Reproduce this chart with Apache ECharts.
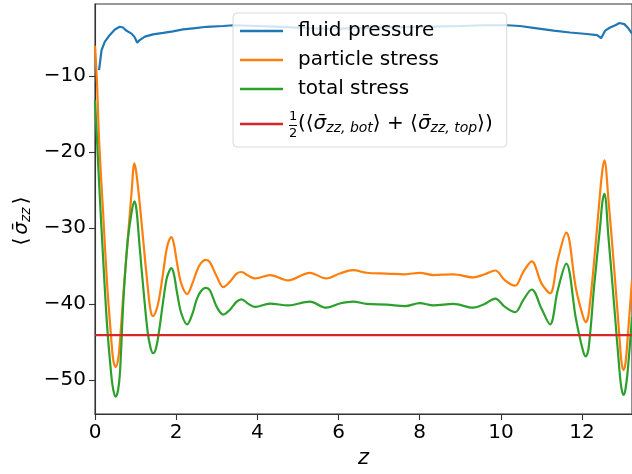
<!DOCTYPE html>
<html>
<head>
<meta charset="utf-8">
<script src="https://cdn.jsdelivr.net/npm/echarts@6/dist/echarts.min.js"></script>
<style>
html,body{margin:0;padding:0;background:#fff;}
#chart{width:632px;height:474px;}
</style>
</head>
<body>
<div id="chart"></div>
<script>
// ---- data ----
const zStress = [0.0, 0.05, 0.1, 0.2, 0.3, 0.4, 0.45, 0.51, 0.57, 0.62, 0.7, 0.8, 0.9, 0.97, 1.02, 1.1, 1.2, 1.3, 1.37, 1.43, 1.5, 1.58, 1.67, 1.76, 1.82, 1.88, 1.94, 2.03, 2.13, 2.27, 2.4, 2.5, 2.6, 2.73, 2.83, 3.0, 3.16, 3.32, 3.49, 3.61, 3.78, 3.95, 4.31, 4.76, 5.29, 5.7, 6.03, 6.36, 6.69, 7.19, 7.64, 8.0, 8.34, 8.83, 9.32, 9.6, 9.86, 10.1, 10.35, 10.55, 10.76, 11.0, 11.21, 11.4, 11.61, 11.85, 12.02, 12.09, 12.16, 12.3, 12.45, 12.5, 12.55, 12.65, 12.8, 12.92, 12.97, 13.02, 13.07, 13.13, 13.23];
const particleStress = [-6.0, -11.0, -18.4, -28.0, -37.5, -44.6, -47.4, -48.3, -47.3, -44.6, -38.6, -32.0, -25.4, -21.5, -22.8, -26.7, -32.3, -37.8, -40.9, -41.6, -41.0, -39.3, -36.2, -32.9, -31.7, -31.2, -32.0, -34.9, -37.4, -38.7, -37.3, -35.8, -34.7, -34.2, -34.5, -36.4, -37.8, -37.1, -36.0, -35.8, -36.3, -36.65, -36.2, -36.9, -35.9, -36.65, -36.0, -35.55, -35.9, -36.0, -36.1, -35.9, -36.2, -36.1, -36.5, -36.1, -35.6, -36.9, -37.6, -35.8, -34.4, -37.3, -38.6, -34.2, -30.6, -38.0, -41.6, -42.4, -41.4, -34.2, -25.0, -22.4, -21.1, -26.3, -36.0, -44.3, -47.6, -48.7, -47.8, -44.0, -36.9];
const totalStress = [-13.2, -18.4, -24.0, -34.0, -43.0, -49.3, -51.3, -52.2, -51.3, -48.6, -39.5, -32.0, -28.0, -26.5, -27.5, -32.5, -38.5, -43.8, -45.8, -46.5, -45.9, -43.5, -40.0, -36.8, -35.8, -35.3, -36.0, -38.8, -41.3, -42.7, -41.3, -39.5, -38.4, -37.9, -38.2, -40.4, -41.4, -40.8, -39.7, -39.4, -40.0, -40.4, -39.95, -40.2, -39.7, -40.5, -39.95, -39.7, -40.0, -40.1, -40.3, -39.9, -40.2, -40.0, -40.5, -40.0, -39.3, -40.4, -41.1, -39.5, -38.1, -40.6, -42.7, -38.2, -34.7, -42.0, -46.1, -46.9, -45.9, -37.5, -29.5, -26.6, -25.5, -31.2, -40.8, -48.7, -51.1, -52.0, -51.2, -48.5, -41.7];
const zFluid = [0.1, 0.16, 0.24, 0.36, 0.49, 0.61, 0.69, 0.77, 0.9, 0.98, 1.04, 1.1, 1.23, 1.43, 1.68, 1.92, 2.17, 2.42, 2.75, 3.16, 3.4, 4.0, 4.6, 5.3, 6.0, 7.0, 8.0, 9.0, 9.6, 10.15, 10.47, 10.89, 11.3, 11.7, 12.12, 12.37, 12.47, 12.57, 12.69, 12.82, 12.92, 13.04, 13.14, 13.23];
const fluidPressure = [-9.2, -6.6, -5.5, -4.6, -3.85, -3.5, -3.6, -4.0, -4.4, -4.9, -5.6, -5.25, -4.8, -4.5, -4.3, -4.1, -3.85, -3.7, -3.5, -3.4, -3.3, -3.4, -3.5, -3.7, -3.75, -3.6, -3.5, -3.4, -3.3, -3.3, -3.4, -3.7, -4.0, -4.25, -4.45, -4.6, -5.0, -4.0, -3.6, -3.3, -3.0, -3.15, -3.7, -4.4];
const meanBoundaryStress = -44.1;
const zRange = [0, 13.23];
const xTicks = [0, 2, 4, 6, 8, 10, 12];
const yTicks = [-50, -40, -30, -20, -10];
const seriesNames = ['fluid pressure', 'particle stress', 'total stress', 'mean boundary'];

const pair = (xs, ys) => xs.map((x, i) => [x, ys[i]]);
const minus = v => String(v).replace('-', '\u2212');

const FONT = '"DejaVu Sans", sans-serif';
const chart = echarts.init(document.getElementById('chart'), null, {renderer: 'canvas'});
chart.setOption({
  animation: false,
  backgroundColor: '#fff',
  textStyle: {fontFamily: FONT},
  grid: {left: 95, right: -6, top: 4, bottom: 60, show: true, borderColor: '#333', borderWidth: 1.1},
  xAxis: {
    type: 'value', min: zRange[0], max: zRange[1],
    name: 'z', nameLocation: 'middle', nameGap: 33,
    nameTextStyle: {fontFamily: FONT, fontSize: 21, fontStyle: 'italic', color: '#000'},
    axisLine: {show: true, lineStyle: {color: '#333', width: 1.1}},
    axisTick: {show: true, length: 6, inside: false, customValues: xTicks, lineStyle: {color: '#333', width: 1.1}},
    axisLabel: {customValues: xTicks, fontFamily: FONT, fontSize: 20, color: '#000', margin: 9, formatter: minus},
    splitLine: {show: false}
  },
  yAxis: {
    type: 'value', min: -54.5, max: -0.5,
    name: '{a|\u27e8}{s|\u03c3\u0304}{b|zz}{a|\u27e9}', nameLocation: 'middle', nameGap: 62,
    nameTextStyle: {fontFamily: FONT, fontSize: 20, color: '#000', padding: [0, 24, 0, 0],
      rich: {
        a: {fontFamily: FONT, fontSize: 20, color: '#000', padding: [0, 3, 0, 3]},
        s: {fontFamily: FONT, fontSize: 20, fontStyle: 'italic', color: '#000'},
        b: {fontFamily: FONT, fontSize: 14, fontStyle: 'italic', color: '#000', padding: [8, 0, 0, 0]}
      }},
    axisLine: {show: true, lineStyle: {color: '#333', width: 1.1}},
    axisTick: {show: true, length: 6, customValues: yTicks, lineStyle: {color: '#333', width: 1.1}},
    axisLabel: {customValues: yTicks, fontFamily: FONT, fontSize: 20, color: '#000', margin: 9, formatter: minus},
    splitLine: {show: false}
  },
  legend: {
    show: true, orient: 'vertical', left: 233, top: 13,
    padding: [8, 14, 7, 7], itemGap: 9,
    itemWidth: 43, itemHeight: 2.5, icon: 'rect',
    backgroundColor: 'rgba(255,255,255,0.8)', borderColor: '#d9d9d9', borderWidth: 1, borderRadius: 4,
    data: seriesNames,
    textStyle: {fontFamily: FONT, fontSize: 20, color: '#000', lineHeight: 20, padding: [0, 0, 0, 10],
      rich: {
        t: {fontFamily: FONT, fontSize: 20, color: '#000', lineHeight: 32},
        s: {fontFamily: FONT, fontSize: 20, fontStyle: 'italic', color: '#000', lineHeight: 32},
        sub: {fontFamily: FONT, fontSize: 14, fontStyle: 'italic', color: '#000', lineHeight: 32, padding: [9, 0, 0, 0]}
      }},
    formatter: function (name) {
      if (name === 'mean boundary') {
        return '{t|(\u27e8}{s|\u03c3\u0304}{sub|zz, bot}{t|\u27e9 + \u27e8}{s|\u03c3\u0304}{sub|zz, top}{t|\u27e9)}';
      }
      return name;
    }
  },
  graphic: [
    {type: 'text', z: 200, left: 289, top: 110, style: {text: '1', font: '13px "DejaVu Sans"', fill: '#000'}},
    {type: 'line', z: 200, shape: {x1: 289, y1: 125.5, x2: 297, y2: 125.5}, style: {stroke: '#000', lineWidth: 1}},
    {type: 'text', z: 200, left: 289, top: 127, style: {text: '2', font: '13px "DejaVu Sans"', fill: '#000'}}
  ],
  series: [
    {name: seriesNames[0], type: 'line', data: pair(zFluid, fluidPressure), showSymbol: false, smooth: false,
      color: '#1f77b4', lineStyle: {color: '#1f77b4', width: 2.2}, z: 2},
    {name: seriesNames[1], type: 'line', data: pair(zStress, particleStress), showSymbol: false, smooth: 0.35,
      color: '#ff7f0e', lineStyle: {color: '#ff7f0e', width: 2.2}, z: 2},
    {name: seriesNames[2], type: 'line', data: pair(zStress, totalStress), showSymbol: false, smooth: 0.35,
      color: '#2ca02c', lineStyle: {color: '#2ca02c', width: 2.2}, z: 2},
    {name: seriesNames[3], type: 'line', data: pair(zRange, [meanBoundaryStress, meanBoundaryStress]), showSymbol: false,
      color: '#d62728', lineStyle: {color: '#d62728', width: 2.2}, z: 2}
  ]
});
</script>
</body>
</html>
